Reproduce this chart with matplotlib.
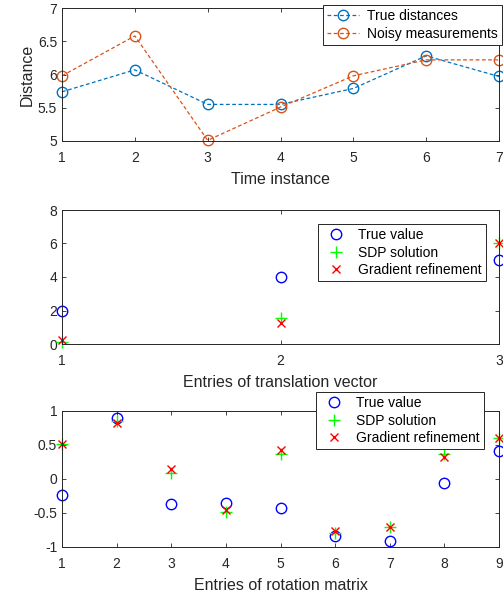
import numpy as np
import matplotlib.pyplot as plt

plt.rcParams['font.family'] = ['Liberation Sans', 'DejaVu Sans']

# top panel: distances
t = [1, 2, 3, 4, 5, 6, 7]
true_dist = [5.74, 6.07, 5.55, 5.55, 5.79, 6.28, 5.97]
noisy_dist = [5.98, 6.58, 5.01, 5.51, 5.98, 6.22, 6.22]

# middle panel: translation vector
tr_idx = [1, 2, 3]
tr_true = [2, 4, 5]
tr_sdp = [0.1, 1.55, 6.04]
tr_grad = [0.26, 1.25, 6.04]

# bottom panel: rotation matrix entries
rot_idx = [1, 2, 3, 4, 5, 6, 7, 8, 9]
rot_true = [-0.23, 0.90, -0.37, -0.35, -0.43, -0.84, -0.91, -0.06, 0.41]
rot_sdp = [0.51, 0.85, 0.09, -0.48, 0.37, -0.79, -0.71, 0.37, 0.61]
rot_grad = [0.51, 0.82, 0.15, -0.46, 0.43, -0.77, -0.71, 0.33, 0.61]

W, H = 503, 596
fig = plt.figure(figsize=(W / 100, H / 100), dpi=100)

def add_ax(l, t_, r, b):
    ax = fig.add_axes([l / W, 1 - b / H, (r - l) / W, (b - t_) / H])
    ax.tick_params(direction='in', top=True, right=True, labelsize=10,
                   colors='#262626', length=3, width=0.6)
    ax.tick_params(axis='x', pad=7)
    for s in ax.spines.values():
        s.set_linewidth(0.7)
        s.set_color('#262626')
    return ax

def add_leg(ax, x0, y1, hl=2.3):
    # x0, y1: left and top of legend box in figure pixels
    leg = ax.legend(loc='upper left', bbox_to_anchor=(x0 / W, 1 - y1 / H),
                    bbox_transform=fig.transFigure, fontsize=10,
                    fancybox=False, edgecolor='#262626', framealpha=1,
                    borderpad=0.3, borderaxespad=0, handlelength=hl,
                    handletextpad=0.6, labelspacing=0.25)
    leg.get_frame().set_linewidth(0.7)
    return leg

ax1 = add_ax(62, 8, 499, 141)
ax1.plot(t, true_dist, '--o', color='#0072BD', mfc='none', ms=7.5, lw=0.9,
         dashes=(3, 2), label='True distances', clip_on=False)
ax1.plot(t, noisy_dist, '--o', color='#D95319', mfc='none', ms=7.5, lw=0.9,
         dashes=(3, 2), label='Noisy measurements', clip_on=False)
ax1.set_xlim(1, 7)
ax1.set_ylim(5, 7)
ax1.set_yticks([5, 5.5, 6, 6.5, 7])
ax1.set_yticklabels(['5', '5.5', '6', '6.5', '7'])
ax1.set_xlabel('Time instance', fontsize=11.5, color='#262626', labelpad=5)
ax1.set_ylabel('Distance', fontsize=11.5, color='#262626', labelpad=2)
add_leg(ax1, 323, 5)

ax2 = add_ax(62, 210, 499, 344)
ax2.plot(tr_idx, tr_true, 'o', color='b', mfc='none', ms=7.5, label='True value', clip_on=False)
ax2.plot(tr_idx, tr_sdp, '+', color='#00FF00', ms=8, label='SDP solution', clip_on=False)
ax2.plot(tr_idx, tr_grad, 'x', color='r', ms=6, label='Gradient refinement', clip_on=False)
ax2.set_xlim(1, 3)
ax2.set_ylim(0, 8)
ax2.set_xticks([1, 2, 3])
ax2.set_yticks([0, 2, 4, 6, 8])
ax2.set_xlabel('Entries of translation vector', fontsize=11.5, color='#262626', labelpad=5)
add_leg(ax2, 318, 224, hl=2.0)

ax3 = add_ax(62, 411, 499, 547)
ax3.plot(rot_idx, rot_true, 'o', color='b', mfc='none', ms=7.5, label='True value', clip_on=False)
ax3.plot(rot_idx, rot_sdp, '+', color='#00FF00', ms=8, label='SDP solution', clip_on=False)
ax3.plot(rot_idx, rot_grad, 'x', color='r', ms=6, label='Gradient refinement', clip_on=False)
ax3.set_xlim(1, 9)
ax3.set_ylim(-1, 1)
ax3.set_xticks(rot_idx)
ax3.set_yticks([-1, -0.5, 0, 0.5, 1])
ax3.set_yticklabels(['-1', '-0.5', '0', '0.5', '1'])
ax3.set_xlabel('Entries of rotation matrix', fontsize=11.5, color='#262626', labelpad=5)
add_leg(ax3, 316, 392, hl=2.0)

fig.savefig('out.png', dpi=100)
